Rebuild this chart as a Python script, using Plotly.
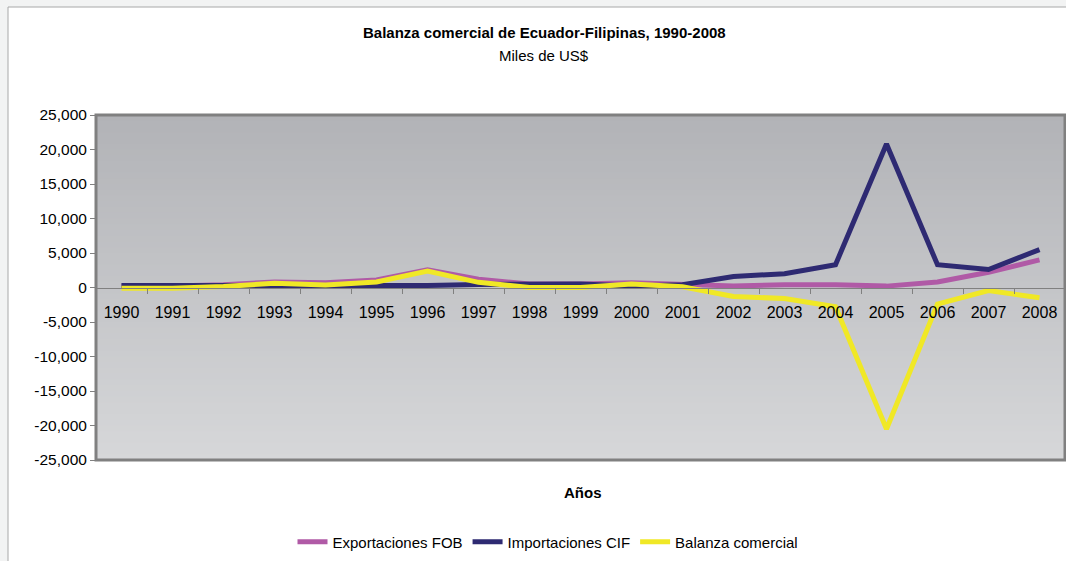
import plotly.graph_objects as go

years = [str(y) for y in range(1990, 2009)]
exportaciones = [200, 200, 400, 800, 700, 1100, 2550, 1200, 500, 500, 700, 500, 200, 400, 400, 200, 800, 2200, 4000]
importaciones = [300, 300, 250, 250, 300, 350, 300, 450, 500, 500, 200, 400, 1600, 2000, 3300, 20800, 3300, 2600, 5500]
balanza = [-100, -100, 150, 600, 350, 800, 2400, 750, 0, 0, 500, 100, -1300, -1600, -2800, -20500, -2400, -450, -1500]
y_ticks = [-25000, -20000, -15000, -10000, -5000, 0, 5000, 10000, 15000, 20000, 25000]
y_ticktext = ["-25,000", "-20,000", "-15,000", "-10,000", "-5,000", "0",
              "5,000", "10,000", "15,000", "20,000", "25,000"]

W, H = 1066, 561
L, R, T, B = 96, 1065, 115, 460

def px_x(p):
    return (p - L) / (R - L)

def px_y(p):
    return (B - p) / (B - T)

font = "Liberation Sans, Arial, sans-serif"

fig = go.Figure()
fig.add_trace(go.Scatter(x=years, y=exportaciones, mode="lines", name="Exportaciones FOB",
                         line=dict(color="#b05aa6", width=5)))
fig.add_trace(go.Scatter(x=years, y=importaciones, mode="lines", name="Importaciones CIF",
                         line=dict(color="#2e2a72", width=5)))
fig.add_trace(go.Scatter(x=years, y=balanza, mode="lines", name="Balanza comercial",
                         line=dict(color="#f0e826", width=5)))

shapes = []
# outer frame
shapes.append(dict(type="rect", xref="paper", yref="paper", x0=px_x(8), x1=px_x(1075),
                   y0=px_y(575), y1=px_y(7), fillcolor="white",
                   line=dict(color="#a8a8a8", width=1), layer="below"))
# gradient plot background
n = 60
top = (178, 179, 183)
bot = (214, 215, 217)
for i in range(n):
    t = i / (n - 1)
    c = tuple(int(round(top[k] + (bot[k] - top[k]) * t)) for k in range(3))
    y1 = 1 - i / n
    y0 = 1 - (i + 1) / n
    shapes.append(dict(type="rect", xref="paper", yref="paper", x0=0, x1=1, y0=y0 - 0.002, y1=y1,
                       fillcolor="rgb(%d,%d,%d)" % c, line=dict(width=0), layer="below"))
# plot border
shapes.append(dict(type="rect", xref="paper", yref="paper", x0=0, x1=1, y0=0, y1=1,
                   fillcolor="rgba(0,0,0,0)", line=dict(color="#808080", width=3), layer="below"))

fig.update_layout(
    width=W, height=H,
    margin=dict(l=L, r=W - R, t=T, b=H - B),
    paper_bgcolor="#f2f3f3",
    plot_bgcolor="rgba(0,0,0,0)",
    font=dict(family=font, size=16, color="black"),
    shapes=shapes,
    showlegend=True,
    legend=dict(orientation="h", x=px_x(548), xanchor="center", y=px_y(542), yanchor="middle",
                font=dict(size=15), bgcolor="rgba(0,0,0,0)", itemwidth=30, tracegroupgap=0),
    annotations=[
        dict(text="<b>Balanza comercial de Ecuador-Filipinas, 1990-2008</b>", xref="paper", yref="paper",
             x=px_x(544), y=px_y(33), xanchor="center", yanchor="middle", showarrow=False,
             font=dict(size=15, family=font)),
        dict(text="Miles de US$", xref="paper", yref="paper",
             x=px_x(544), y=px_y(56), xanchor="center", yanchor="middle", showarrow=False,
             font=dict(size=15, family=font)),
        dict(text="<b>Años</b>", xref="paper", yref="paper",
             x=px_x(583), y=px_y(492), xanchor="center", yanchor="middle", showarrow=False,
             font=dict(size=15, family=font)),
    ],
)

fig.update_xaxes(type="category", range=[-0.5, len(years) - 0.5], anchor="free", position=0.5,
                 showgrid=False, showline=True, linecolor="#808080", linewidth=1,
                 ticks="outside", ticklen=5, tickcolor="#808080", tickson="boundaries",
                 ticklabelstandoff=10, tickfont=dict(size=16), zeroline=False)
fig.update_yaxes(range=[-25000, 25000], tickvals=y_ticks, ticktext=y_ticktext, showgrid=False,
                 zeroline=False, showline=False, ticks="outside", ticklen=5, tickcolor="#808080",
                 tickfont=dict(size=15.5))

fig.write_html("out.html", config={"displayModeBar": False},
               post_script="document.body.style.margin='0';document.body.style.overflow='hidden';")
